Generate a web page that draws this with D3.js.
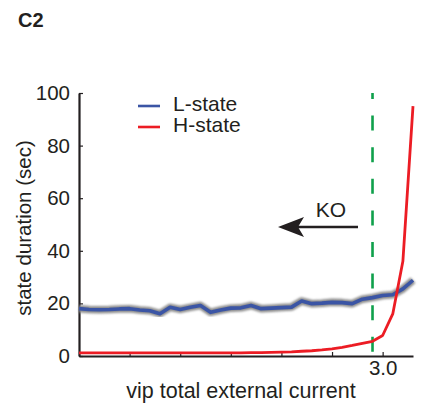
<!DOCTYPE html>
<html>
<head>
<meta charset="utf-8">
<script src="https://cdn.jsdelivr.net/npm/d3@7"></script>
<style>
  body { margin: 0; background: #fff; }
  text { font-family: "Liberation Sans", Arial, sans-serif; fill: #231f20; }
</style>
</head>
<body>
<div id="chart"></div>
<script>
// sampled external current values
var current = [1.80, 1.84, 1.88, 1.92, 1.96, 2.00, 2.04, 2.08, 2.12, 2.16, 2.20, 2.24,
               2.28, 2.32, 2.36, 2.40, 2.44, 2.48, 2.52, 2.56, 2.60, 2.64, 2.68, 2.72,
               2.76, 2.80, 2.84, 2.88, 2.92, 2.96, 3.00, 3.04, 3.08, 3.12];
var lState = [18.0, 17.7, 17.6, 17.7, 17.9, 18.0, 17.5, 17.2, 16.1, 18.5, 17.7, 18.5,
              19.2, 16.6, 17.5, 18.2, 18.3, 19.2, 18.0, 18.2, 18.4, 18.6, 20.9, 19.9,
              20.1, 20.4, 20.3, 19.9, 21.6, 22.2, 23.0, 23.3, 25.5, 28.8];
var hState = [1.2, 1.2, 1.2, 1.2, 1.2, 1.2, 1.2, 1.2, 1.2, 1.2, 1.2, 1.2,
              1.2, 1.2, 1.2, 1.2, 1.2, 1.3, 1.3, 1.4, 1.5, 1.6, 1.8, 2.0,
              2.3, 2.7, 3.3, 4.0, 4.8, 5.6, 7.8, 16, 36, 95];
var koCurrent = 2.96;
var xTicks = [1.8, 2.0, 2.2, 2.4, 2.6, 2.8, 3.0];
var xTickLabels = ["", "", "", "", "", "", "3.0"];
var yTicks = [0, 20, 40, 60, 80, 100];
var seriesNames = ["L-state", "H-state"];
var seriesColours = ["#3b55a5", "#ec1c24"];

var margin = { top: 93, right: 9, bottom: 60, left: 79 };
var width = 422, height = 416;

var svg = d3.select("#chart")
    .append("svg")
    .attr("width", width)
    .attr("height", height);

var x = d3.scaleLinear()
    .domain([1.8, 3.12])
    .range([margin.left, width - margin.right]);
var y = d3.scaleLinear()
    .domain([0, 100])
    .range([height - margin.bottom, margin.top]);

var defs = svg.append("defs");
defs.append("filter").attr("id", "soft")
    .append("feGaussianBlur").attr("stdDeviation", 0.9);

// panel label
svg.append("text")
    .attr("x", 18).attr("y", 27)
    .style("font-size", "20px")
    .style("font-weight", "bold")
    .text("C2");

// axes
var xAxis = d3.axisBottom(x)
    .tickValues(xTicks)
    .tickFormat(function(d, i){ return xTickLabels[i]; })
    .tickSizeInner(-4)
    .tickSizeOuter(0)
    .tickPadding(4);
var yAxis = d3.axisLeft(y)
    .tickValues(yTicks)
    .tickSizeInner(-4)
    .tickSizeOuter(0)
    .tickPadding(9);

var gx = svg.append("g")
    .attr("transform", "translate(0," + y(0) + ")")
    .call(xAxis);
var gy = svg.append("g")
    .attr("transform", "translate(" + x(1.8) + ",0)")
    .call(yAxis);

[gx, gy].forEach(function(g){
    g.select(".domain").attr("stroke", "#231f20").attr("stroke-width", 2.2);
    g.selectAll(".tick line").attr("stroke", "#231f20").attr("stroke-width", 1.2);
    g.selectAll(".tick text")
        .style("font-size", "20.5px")
        .style("font-family", "Liberation Sans, Arial, sans-serif")
        .attr("fill", "#231f20");
});

// axis titles
svg.append("text")
    .attr("text-anchor", "middle")
    .attr("transform", "translate(31," + 228 + ") rotate(-90)")
    .style("font-size", "20.5px")
    .text("state duration (sec)");
svg.append("text")
    .attr("text-anchor", "middle")
    .attr("x", 241).attr("y", 398)
    .style("font-size", "21.5px")
    .text("vip total external current");

// KO threshold
svg.append("line")
    .attr("x1", x(koCurrent)).attr("x2", x(koCurrent))
    .attr("y1", y(100)).attr("y2", y(0))
    .attr("stroke", "#0fa04b")
    .attr("stroke-width", 2.6)
    .attr("stroke-dasharray", "15,16.6")
    .attr("stroke-dashoffset", 9);

// lines
var line = d3.line()
    .x(function(d){ return x(d[0]); })
    .y(function(d){ return y(d[1]); });

var lData = current.map(function(c, i){ return [c, lState[i]]; });
var hData = current.map(function(c, i){ return [c, hState[i]]; });

svg.append("path")
    .datum(lData)
    .attr("d", line)
    .attr("fill", "none")
    .attr("stroke", "#8d8d8d")
    .attr("stroke-width", 7.5)
    .attr("stroke-linejoin", "round")
    .attr("filter", "url(#soft)");
svg.append("path")
    .datum(lData)
    .attr("d", line)
    .attr("fill", "none")
    .attr("stroke", seriesColours[0])
    .attr("stroke-width", 3.6)
    .attr("stroke-linejoin", "round");

svg.append("path")
    .datum(hData)
    .attr("d", line)
    .attr("fill", "none")
    .attr("stroke", seriesColours[1])
    .attr("stroke-width", 2.8)
    .attr("stroke-linejoin", "round");

// KO arrow
var ko = svg.append("g");
ko.append("line")
    .attr("x1", 358).attr("x2", 296)
    .attr("y1", 227).attr("y2", 227)
    .attr("stroke", "#231f20")
    .attr("stroke-width", 2.4);
ko.append("path")
    .attr("d", "M278,227 L304,217 L298,227 L304,237 Z")
    .attr("fill", "#231f20");
ko.append("text")
    .attr("x", 331).attr("y", 217)
    .attr("text-anchor", "middle")
    .style("font-size", "21px")
    .text("KO");

// legend
var legend = svg.selectAll(".legend")
    .data(seriesNames)
    .enter().append("g")
    .attr("class", "legend")
    .attr("transform", function(d, i){ return "translate(138," + (106 + i * 21) + ")"; });
legend.append("line")
    .attr("x1", 0).attr("x2", 22)
    .attr("stroke", function(d, i){ return seriesColours[i]; })
    .attr("stroke-width", 2.6);
legend.append("text")
    .attr("x", 35).attr("y", 5)
    .style("font-size", "21px")
    .text(function(d){ return d; });
</script>
</body>
</html>
